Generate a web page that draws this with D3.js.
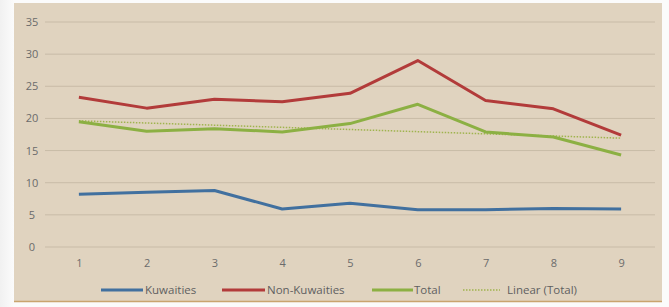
<!DOCTYPE html>
<html><head><meta charset="utf-8">
<script src="https://cdn.jsdelivr.net/npm/d3@7"></script>
<style>body{margin:0;background:#fff;}svg{display:block;}</style>
</head><body>
<script>
const categories = ["1","2","3","4","5","6","7","8","9"];
const kuwaities = [8.2, 8.5, 8.8, 5.9, 6.8, 5.8, 5.8, 6.0, 5.9];
const nonKuwaities = [23.3, 21.6, 23.0, 22.6, 23.9, 29.0, 22.8, 21.5, 17.4];
const total = [19.5, 18.0, 18.4, 17.9, 19.2, 22.2, 17.9, 17.1, 14.3];
const yTicks = [0, 5, 10, 15, 20, 25, 30, 35];
const seriesNames = ["Kuwaities", "Non-Kuwaities", "Total", "Linear (Total)"];

const W = 669, H = 307;
const svg = d3.select("body").append("svg").attr("width", W).attr("height", H);

const defs = svg.append("defs");
const g1 = defs.append("linearGradient").attr("id","lg").attr("x1","0").attr("x2","1");
g1.append("stop").attr("offset","0").attr("stop-color","#f1f1f1");
g1.append("stop").attr("offset","1").attr("stop-color","#fbfbfb");
svg.append("rect").attr("width",W).attr("height",H).attr("fill","#fbfbfb");
svg.append("rect").attr("x",0).attr("y",0).attr("width",14).attr("height",H).attr("fill","url(#lg)");
svg.append("rect").attr("x",14).attr("y",3).attr("width",648).attr("height",298).attr("fill","#e0d3bf");
svg.append("line").attr("x1",14).attr("x2",662).attr("y1",301.5).attr("y2",301.5).attr("stroke","#c9a46e").attr("stroke-width",1.5);

const x = d3.scalePoint().domain(categories).range([45, 655]).padding(0.5);
const y = d3.scaleLinear().domain([0, 35]).range([247, 22]);

svg.append("g").selectAll("line").data(yTicks).join("line")
  .attr("x1",45).attr("x2",655)
  .attr("y1",d=>y(d)).attr("y2",d=>y(d))
  .attr("stroke","#c8bba7").attr("stroke-width",1);

const yAxis = d3.axisLeft(y).tickValues(yTicks).tickSize(0).tickPadding(0);
const ya = svg.append("g").attr("transform","translate(32,0)").call(yAxis);
ya.select(".domain").remove();
ya.selectAll("text").attr("fill","#6b6b6b").attr("font-family","Open Sans, sans-serif").attr("font-size",11).attr("text-anchor","middle");

const xAxis = d3.axisBottom(x).tickSize(0).tickPadding(0);
const xa = svg.append("g").attr("transform","translate(0,267)").call(xAxis);
xa.select(".domain").remove();
xa.selectAll("text").attr("fill","#6b6b6b").attr("font-family","Open Sans, sans-serif").attr("font-size",11).attr("dy","0");

// linear regression trendline of Total
const xs = categories.map((c,i)=>i+1);
const mx = d3.mean(xs), my = d3.mean(total);
const slope = d3.sum(xs.map((v,i)=>(v-mx)*(total[i]-my))) / d3.sum(xs.map(v=>(v-mx)*(v-mx)));
const icpt = my - slope*mx;
const trend = xs.map(v=>icpt + slope*v);

const colors = {k:"#41709f", nk:"#b23b3a", t:"#8cb043", lin:"#9fb44e"};
const line = d3.line().x((d,i)=>x(categories[i])).y(d=>y(d));

svg.append("path").datum(kuwaities).attr("d",line).attr("fill","none").attr("stroke",colors.k).attr("stroke-width",3).attr("stroke-linejoin","round");
svg.append("path").datum(nonKuwaities).attr("d",line).attr("fill","none").attr("stroke",colors.nk).attr("stroke-width",3).attr("stroke-linejoin","round");
svg.append("path").datum(trend).attr("d",line).attr("fill","none").attr("stroke",colors.lin).attr("stroke-width",1.5).attr("stroke-dasharray","1.5,1.5");
svg.append("path").datum(total).attr("d",line).attr("fill","none").attr("stroke",colors.t).attr("stroke-width",3).attr("stroke-linejoin","round");

const legend = [
  {name:seriesNames[0], c:colors.k, x1:101, x2:143, tx:145, dash:null, w:3},
  {name:seriesNames[1], c:colors.nk, x1:222, x2:265, tx:267, dash:null, w:3},
  {name:seriesNames[2], c:colors.t, x1:372, x2:413, tx:414, dash:null, w:3},
  {name:seriesNames[3], c:colors.lin, x1:463, x2:500, tx:507, dash:"1.5,1.5", w:1.5}
];
const lg = svg.append("g");
legend.forEach(d=>{
  lg.append("line").attr("x1",d.x1).attr("x2",d.x2).attr("y1",290).attr("y2",290)
    .attr("stroke",d.c).attr("stroke-width",d.w).attr("stroke-dasharray",d.dash);
  lg.append("text").attr("x",d.tx).attr("y",294).text(d.name)
    .attr("fill","#5f5f5f").attr("font-family","Open Sans, sans-serif").attr("font-size",11.5);
});
</script>
</body></html>
